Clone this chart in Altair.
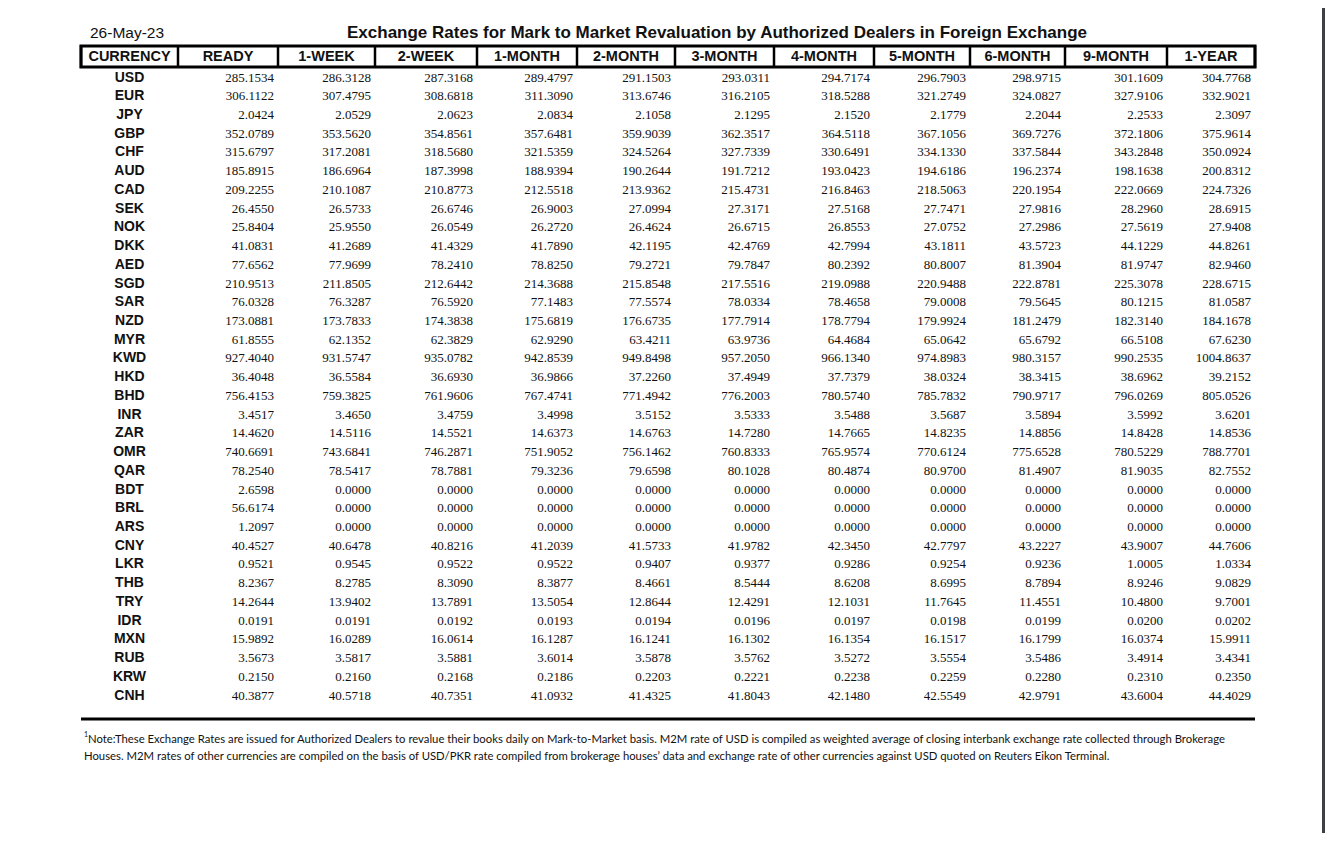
import altair as alt
import pandas as pd

date_label = "26-May-23"
title_text = "Exchange Rates for Mark to Market Revaluation by Authorized Dealers in Foreign Exchange"
header = ["CURRENCY", "READY", "1-WEEK", "2-WEEK", "1-MONTH", "2-MONTH", "3-MONTH",
          "4-MONTH", "5-MONTH", "6-MONTH", "9-MONTH", "1-YEAR"]

currencies = ["USD", "EUR", "JPY", "GBP", "CHF", "AUD", "CAD", "SEK", "NOK", "DKK", "AED",
              "SGD", "SAR", "NZD", "MYR", "KWD", "HKD", "BHD", "INR", "ZAR", "OMR", "QAR",
              "BDT", "BRL", "ARS", "CNY", "LKR", "THB", "TRY", "IDR", "MXN", "RUB", "KRW", "CNH"]

ready = [285.1534, 306.1122, 2.0424, 352.0789, 315.6797, 185.8915, 209.2255, 26.4550, 25.8404,
         41.0831, 77.6562, 210.9513, 76.0328, 173.0881, 61.8555, 927.4040, 36.4048, 756.4153,
         3.4517, 14.4620, 740.6691, 78.2540, 2.6598, 56.6174, 1.2097, 40.4527, 0.9521, 8.2367,
         14.2644, 0.0191, 15.9892, 3.5673, 0.2150, 40.3877]
week1 = [286.3128, 307.4795, 2.0529, 353.5620, 317.2081, 186.6964, 210.1087, 26.5733, 25.9550,
         41.2689, 77.9699, 211.8505, 76.3287, 173.7833, 62.1352, 931.5747, 36.5584, 759.3825,
         3.4650, 14.5116, 743.6841, 78.5417, 0.0, 0.0, 0.0, 40.6478, 0.9545, 8.2785,
         13.9402, 0.0191, 16.0289, 3.5817, 0.2160, 40.5718]
week2 = [287.3168, 308.6818, 2.0623, 354.8561, 318.5680, 187.3998, 210.8773, 26.6746, 26.0549,
         41.4329, 78.2410, 212.6442, 76.5920, 174.3838, 62.3829, 935.0782, 36.6930, 761.9606,
         3.4759, 14.5521, 746.2871, 78.7881, 0.0, 0.0, 0.0, 40.8216, 0.9522, 8.3090,
         13.7891, 0.0192, 16.0614, 3.5881, 0.2168, 40.7351]
month1 = [289.4797, 311.3090, 2.0834, 357.6481, 321.5359, 188.9394, 212.5518, 26.9003, 26.2720,
          41.7890, 78.8250, 214.3688, 77.1483, 175.6819, 62.9290, 942.8539, 36.9866, 767.4741,
          3.4998, 14.6373, 751.9052, 79.3236, 0.0, 0.0, 0.0, 41.2039, 0.9522, 8.3877,
          13.5054, 0.0193, 16.1287, 3.6014, 0.2186, 41.0932]
month2 = [291.1503, 313.6746, 2.1058, 359.9039, 324.5264, 190.2644, 213.9362, 27.0994, 26.4624,
          42.1195, 79.2721, 215.8548, 77.5574, 176.6735, 63.4211, 949.8498, 37.2260, 771.4942,
          3.5152, 14.6763, 756.1462, 79.6598, 0.0, 0.0, 0.0, 41.5733, 0.9407, 8.4661,
          12.8644, 0.0194, 16.1241, 3.5878, 0.2203, 41.4325]
month3 = [293.0311, 316.2105, 2.1295, 362.3517, 327.7339, 191.7212, 215.4731, 27.3171, 26.6715,
          42.4769, 79.7847, 217.5516, 78.0334, 177.7914, 63.9736, 957.2050, 37.4949, 776.2003,
          3.5333, 14.7280, 760.8333, 80.1028, 0.0, 0.0, 0.0, 41.9782, 0.9377, 8.5444,
          12.4291, 0.0196, 16.1302, 3.5762, 0.2221, 41.8043]
month4 = [294.7174, 318.5288, 2.1520, 364.5118, 330.6491, 193.0423, 216.8463, 27.5168, 26.8553,
          42.7994, 80.2392, 219.0988, 78.4658, 178.7794, 64.4684, 966.1340, 37.7379, 780.5740,
          3.5488, 14.7665, 765.9574, 80.4874, 0.0, 0.0, 0.0, 42.3450, 0.9286, 8.6208,
          12.1031, 0.0197, 16.1354, 3.5272, 0.2238, 42.1480]
month5 = [296.7903, 321.2749, 2.1779, 367.1056, 334.1330, 194.6186, 218.5063, 27.7471, 27.0752,
          43.1811, 80.8007, 220.9488, 79.0008, 179.9924, 65.0642, 974.8983, 38.0324, 785.7832,
          3.5687, 14.8235, 770.6124, 80.9700, 0.0, 0.0, 0.0, 42.7797, 0.9254, 8.6995,
          11.7645, 0.0198, 16.1517, 3.5554, 0.2259, 42.5549]
month6 = [298.9715, 324.0827, 2.2044, 369.7276, 337.5844, 196.2374, 220.1954, 27.9816, 27.2986,
          43.5723, 81.3904, 222.8781, 79.5645, 181.2479, 65.6792, 980.3157, 38.3415, 790.9717,
          3.5894, 14.8856, 775.6528, 81.4907, 0.0, 0.0, 0.0, 43.2227, 0.9236, 8.7894,
          11.4551, 0.0199, 16.1799, 3.5486, 0.2280, 42.9791]
month9 = [301.1609, 327.9106, 2.2533, 372.1806, 343.2848, 198.1638, 222.0669, 28.2960, 27.5619,
          44.1229, 81.9747, 225.3078, 80.1215, 182.3140, 66.5108, 990.2535, 38.6962, 796.0269,
          3.5992, 14.8428, 780.5229, 81.9035, 0.0, 0.0, 0.0, 43.9007, 1.0005, 8.9246,
          10.4800, 0.0200, 16.0374, 3.4914, 0.2310, 43.6004]
year1 = [304.7768, 332.9021, 2.3097, 375.9614, 350.0924, 200.8312, 224.7326, 28.6915, 27.9408,
         44.8261, 82.9460, 228.6715, 81.0587, 184.1678, 67.6230, 1004.8637, 39.2152, 805.0526,
         3.6201, 14.8536, 788.7701, 82.7552, 0.0, 0.0, 0.0, 44.7606, 1.0334, 9.0829,
         9.7001, 0.0202, 15.9911, 3.4341, 0.2350, 44.4029]

note_line1 = ("Note:These Exchange Rates are issued for Authorized Dealers to revalue their books daily "
              "on Mark-to-Market basis. M2M rate of USD is compiled as weighted average of closing "
              "interbank exchange rate collected through Brokerage")
note_line2 = ("Houses. M2M rates of other currencies are compiled on the basis of USD/PKR rate compiled "
              "from brokerage houses\u2019 data and exchange rate of other currencies against USD quoted "
              "on Reuters Eikon Terminal.")

series = [ready, week1, week2, month1, month2, month3, month4, month5, month6, month9, year1]

# ---- layout (style / scale config, in chart pixels) ----
col_edges = [73, 170, 270, 367, 469, 569, 667, 766, 866, 962, 1057, 1159, 1247]
xs = alt.Scale(domain=list(range(13)), range=col_edges, nice=False, zero=False)
ys = alt.Scale(domain=[0, len(currencies) - 1], range=[69.5, 687.5], nice=False, zero=False)
INK = "#111111"

codes_df = pd.DataFrame({"code": currencies, "row": list(range(len(currencies))),
                         "xc": [0.5] * len(currencies)})
rows = []
for c, vals in enumerate(series):
    for r, v in enumerate(vals):
        rows.append({"row": r, "edge": c + 2, "val": v})
vals_df = pd.DataFrame(rows)
head_df = pd.DataFrame({"label": header, "xc": [i + 0.5 for i in range(len(header))]})
div_df = pd.DataFrame({"xi": list(range(len(header) + 1))})
span_df = pd.DataFrame({"a": [0], "b": [len(header)]})

X = lambda f: alt.X(f, scale=xs, axis=None)
Y = lambda f: alt.Y(f, scale=ys, axis=None)

codes = alt.Chart(codes_df).mark_text(
    font="Liberation Sans", fontWeight="bold", fontSize=14, align="center", baseline="middle", color=INK
).encode(x=X("xc:Q"), y=Y("row:Q"), text="code:N")

values = alt.Chart(vals_df).mark_text(
    font="Liberation Serif", fontSize=13, align="right", baseline="middle", dx=-4, color=INK
).encode(x=X("edge:Q"), y=Y("row:Q"), text=alt.Text("val:Q", format=".4f"))

heads = alt.Chart(head_df).mark_text(
    font="Liberation Sans", fontWeight="bold", fontSize=14.5, align="center", baseline="middle", color=INK
).encode(x=X("xc:Q"), y=alt.value(49), text="label:N")

divs = alt.Chart(div_df).mark_rule(color="black", strokeWidth=2.5).encode(
    x=X("xi:Q"), y=alt.value(37), y2=alt.value(60))

box = alt.Chart(span_df).mark_rect(fillOpacity=0, stroke="black", strokeWidth=3).encode(
    x=X("a:Q"), x2="b:Q", y=alt.value(38), y2=alt.value(59))

bottom = alt.Chart(span_df).mark_rule(color="black", strokeWidth=3).encode(
    x=X("a:Q"), x2="b:Q", y=alt.value(711))

date_t = alt.Chart(pd.DataFrame({"t": [date_label]})).mark_text(
    font="Liberation Sans", fontSize=15.5, align="left", baseline="middle", color=INK
).encode(x=alt.value(82), y=alt.value(25), text="t:N")

title_t = alt.Chart(pd.DataFrame({"t": [title_text]})).mark_text(
    font="Liberation Sans", fontWeight="bold", fontSize=17, align="center", baseline="middle", color=INK
).encode(x=alt.value(709), y=alt.value(25), text="t:N")

sup = alt.Chart(pd.DataFrame({"t": ["1"]})).mark_text(
    font="Lato", fontSize=7, align="left", baseline="middle", color=INK
).encode(x=alt.value(76), y=alt.value(727), text="t:N")

note1 = alt.Chart(pd.DataFrame({"t": [note_line1]})).mark_text(
    font="Lato", fontSize=11.3, align="left", baseline="middle", color=INK
).encode(x=alt.value(80), y=alt.value(732), text="t:N")

note2 = alt.Chart(pd.DataFrame({"t": [note_line2]})).mark_text(
    font="Lato", fontSize=11.3, align="left", baseline="middle", color=INK
).encode(x=alt.value(76), y=alt.value(749), text="t:N")

# viewer frame on the right edge
frame = alt.Chart(span_df).mark_rule(color="#3b4046", strokeWidth=3).encode(
    x=alt.value(1315.5), y=alt.value(0), y2=alt.value(825))

chart = alt.layer(box, divs, heads, codes, values, bottom, date_t, title_t, sup, note1, note2, frame).properties(
    width=1317, height=825, padding=0,
    autosize=alt.AutoSizeParams(type="none"),
    background="white",
).configure_view(stroke=None)

chart.save("out.html", embed_options={"renderer": "svg", "actions": False})
